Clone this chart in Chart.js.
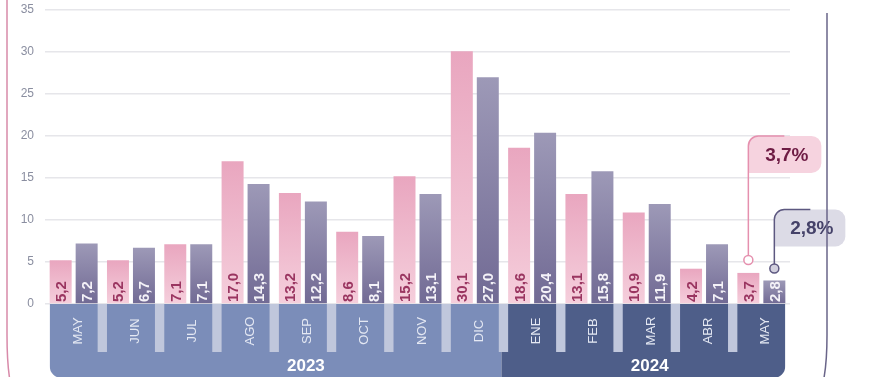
<!DOCTYPE html>
<html>
<head>
<meta charset="utf-8">
<script src="https://cdn.jsdelivr.net/npm/chart.js@4"></script>
<style>
  html, body { margin: 0; padding: 0; background: #fff; }
  .chart-wrap { position: relative; width: 869px; height: 377px; overflow: hidden; }
</style>
</head>
<body>
<div class="chart-wrap"><canvas id="monthChart"></canvas></div>
<script>
// Data
const months = ['MAY', 'JUN', 'JUL', 'AGO', 'SEP', 'OCT', 'NOV', 'DIC', 'ENE', 'FEB', 'MAR', 'ABR', 'MAY'];
const pinkValues = [5.2, 5.2, 7.1, 17.0, 13.2, 8.6, 15.2, 30.1, 18.6, 13.1, 10.9, 4.2, 3.7];
const purpleValues = [7.2, 6.7, 7.1, 14.3, 12.2, 8.1, 13.1, 27.0, 20.4, 15.8, 11.9, 7.1, 2.8];
const yearLabels = ['2023', '2024'];
const yearFirstMonth = [0, 8];
const yearLastMonth = [7, 12];
const yearLabelMonth = [4, 10];
const yMax = 35;
const yStep = 5;

const FONT = '"Liberation Sans", Arial, Helvetica, sans-serif';
const fmt = v => v.toFixed(1).replace('.', ',');

function barGradient(top, bottom) {
    return ctx => {
        const chart = ctx.chart;
        if (!chart.chartArea || ctx.type !== 'data') return top;
        const y = chart.scales.y;
        const g = chart.ctx.createLinearGradient(0, y.getPixelForValue(ctx.raw), 0, y.getPixelForValue(0));
        g.addColorStop(0, top);
        g.addColorStop(1, bottom);
        return g;
    };
}

const decorPlugin = {
    id: 'decor',
    afterDatasetsDraw(chart) {
        const c = chart.ctx;
        const pink = chart.getDatasetMeta(0).data;
        const purple = chart.getDatasetMeta(1).data;
        const last = months.length - 1;
        const colLeft = i => pink[i].x - pink[i].width / 2;
        const colRight = i => purple[i].x + purple[i].width / 2;
        const bandTop = chart.scales.y.getPixelForValue(0);
        const colBottom = bandTop + 48;
        const bandBottom = chart.height + 1;
        const yearColors = ['#7b8db9', '#4e5e89'];

        c.save();
        // month band + year strip, rounded at the bottom
        c.beginPath();
        c.roundRect(colLeft(0), bandTop, colRight(last) - colLeft(0), bandBottom - bandTop, [0, 0, 12, 12]);
        c.clip();
        yearLabels.forEach((yr, k) => {
            const a = yearFirstMonth[k], b = yearLastMonth[k];
            const x0 = a === 0 ? colLeft(0) : (colRight(a - 1) + colLeft(a)) / 2 - 2;
            const x1 = b === last ? colRight(last) : (colRight(b) + colLeft(b + 1)) / 2 - 2;
            c.fillStyle = yearColors[k];
            c.fillRect(x0, bandTop, x1 - x0, bandBottom - bandTop);
        });
        c.fillStyle = '#c0c7dc';
        for (let i = 0; i < last; i++) {
            c.fillRect(colRight(i), bandTop, colLeft(i + 1) - colRight(i), colBottom - bandTop);
        }
        c.restore();

        // year labels
        c.save();
        c.fillStyle = '#ffffff';
        c.font = `bold 17px ${FONT}`;
        c.textAlign = 'center';
        c.textBaseline = 'middle';
        yearLabels.forEach((yr, k) => {
            const m = yearLabelMonth[k];
            c.fillText(yr, (colLeft(m) + colRight(m)) / 2 + 3, (colBottom + chart.height) / 2 + 2);
        });
        c.restore();

        // month labels, rotated
        months.forEach((m, i) => {
            c.save();
            c.translate((colLeft(i) + colRight(i)) / 2 + 8, (bandTop + colBottom) / 2 + 3);
            c.rotate(-Math.PI / 2);
            c.fillStyle = '#e4e8f3';
            c.font = `13px ${FONT}`;
            c.textAlign = 'center';
            c.textBaseline = 'alphabetic';
            c.fillText(m, 0, 0);
            c.restore();
        });

        // value labels inside bars
        const drawValues = (els, vals, color) => {
            els.forEach((el, i) => {
                c.save();
                c.translate(el.x + 5.5, bandTop - 2);
                c.rotate(-Math.PI / 2);
                c.fillStyle = color;
                c.font = `bold 15px ${FONT}`;
                c.textAlign = 'left';
                c.textBaseline = 'alphabetic';
                c.fillText(fmt(vals[i]), 0, 0);
                c.restore();
            });
        };
        drawValues(pink, pinkValues, '#9a3560');
        drawValues(purple, purpleValues, '#f4f2f8');

        // callouts for the latest month
        const callout = (el, value, lift, boxRise, w, fill, line, dot, text) => {
            const ax = el.x, ay = el.y - lift;
            const bx = ax, by = ay - boxRise, bh = 37;
            c.save();
            c.beginPath();
            c.roundRect(bx, by, w, bh, [10, 10, 10, 0]);
            c.fillStyle = fill;
            c.fill();
            c.beginPath();
            c.moveTo(ax, ay - 4.5);
            c.lineTo(bx, by + 10);
            c.arcTo(bx, by, bx + 10, by, 10);
            c.lineTo(bx + 36, by);
            c.strokeStyle = line;
            c.lineWidth = 1.5;
            c.stroke();
            c.beginPath();
            c.arc(ax, ay, 4.5, 0, Math.PI * 2);
            c.fillStyle = dot;
            c.fill();
            c.stroke();
            c.fillStyle = text;
            c.font = `bold 19px ${FONT}`;
            c.textAlign = 'center';
            c.textBaseline = 'middle';
            c.fillText(fmt(value) + '%', bx + w / 2 + 2, by + bh / 2 + 1);
            c.restore();
        };
        callout(pink[last], pinkValues[last], 13, 124, 73, '#f6d3df', '#e590ae', '#ffffff', '#6e1c44');
        callout(purple[last], purpleValues[last], 12, 59, 71, '#dcdbe6', '#5d5880', '#d2d0de', '#454269');

        // card frame edges
        c.save();
        c.lineWidth = 1.5;
        c.strokeStyle = '#d88aa9';
        c.beginPath();
        c.moveTo(7, 0);
        c.lineTo(7, 335);
        c.quadraticCurveTo(7, 372, 12, 390);
        c.stroke();
        c.strokeStyle = '#6a6589';
        c.beginPath();
        c.moveTo(827, 13);
        c.lineTo(827, 335);
        c.quadraticCurveTo(827, 372, 821, 390);
        c.stroke();
        c.restore();
    }
};

const ctx = document.getElementById('monthChart').getContext('2d');

new Chart(ctx, {
    type: 'bar',
    data: {
        labels: months,
        datasets: [
            {
                label: 'rosa',
                data: pinkValues,
                backgroundColor: barGradient('#e9a6bf', '#f5cfdc'),
                borderWidth: 0,
                categoryPercentage: 0.907,
                barPercentage: 0.846
            },
            {
                label: 'morado',
                data: purpleValues,
                backgroundColor: barGradient('#9d99b7', '#716a94'),
                borderWidth: 0,
                categoryPercentage: 0.907,
                barPercentage: 0.846
            }
        ]
    },
    options: {
        responsive: true,
        maintainAspectRatio: false,
        animation: false,
        layout: { padding: { top: 10, right: 79, left: 0, bottom: 0 } },
        plugins: {
            legend: { display: false },
            tooltip: { enabled: false }
        },
        scales: {
            x: {
                grid: { display: false },
                border: { display: false },
                ticks: { display: false },
                afterFit: s => { s.height = 73; }
            },
            y: {
                min: 0,
                max: yMax,
                border: { display: false },
                grid: { color: '#e6e6ea', lineWidth: 1.5, drawTicks: false },
                ticks: {
                    stepSize: yStep,
                    color: '#8a8ea0',
                    padding: 11,
                    font: { family: FONT, size: 12 }
                },
                afterFit: s => {
                    s.width = 45;
                    s.paddingTop = 0;
                    s.paddingBottom = 0;
                }
            }
        }
    },
    plugins: [decorPlugin]
});
</script>
</body>
</html>
